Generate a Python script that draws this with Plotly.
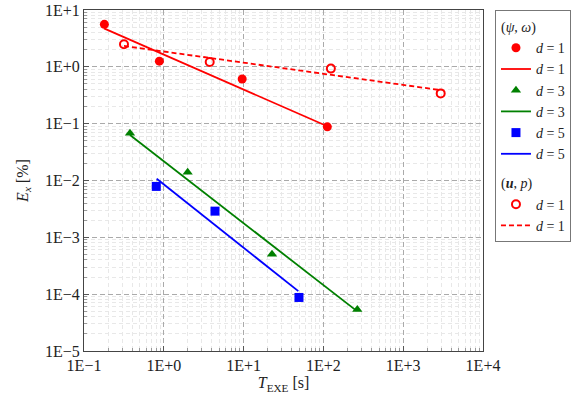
import plotly.graph_objects as go

# ---- data ----
# (psi, omega) formulation, markers
t_d1 = [0.18, 0.88, 9.6, 112]
e_d1 = [5.6, 1.26, 0.61, 0.088]
t_d3 = [0.377, 1.99, 22.7, 266]
e_d3 = [0.0675, 0.0139, 5.06e-4, 5.4e-5]
t_d5 = [0.805, 4.38, 49.4]
e_d5 = [0.00787, 0.00289, 8.75e-5]
# fitted lines (end points)
fit_t_d1 = [0.178, 112]
fit_e_d1 = [4.76, 0.090]
fit_t_d3 = [0.377, 261]
fit_e_d3 = [0.063, 5.08e-5]
fit_t_d5 = [0.815, 48.5]
fit_e_d5 = [0.0107, 1.13e-4]
# (u, p) formulation
t_up = [0.317, 3.76, 124, 2950]
e_up = [2.49, 1.22, 0.93, 0.341]
fit_t_up = [0.317, 2950]
fit_e_up = [2.33, 0.389]

x_tickvals = [0.1, 1, 10, 100, 1000, 10000]
x_ticktext = ["1E\u22121", "1E+0", "1E+1", "1E+2", "1E+3", "1E+4"]
y_tickvals = [1e-5, 1e-4, 1e-3, 1e-2, 1e-1, 1, 10]
y_ticktext = ["1E\u22125", "1E\u22124", "1E\u22123", "1E\u22122", "1E\u22121", "1E+0", "1E+1"]

RED = "#ff0000"
GREEN = "#008000"
BLUE = "#0000ff"
FONT = "Liberation Serif"
FS = 16
LFS = 14

fig = go.Figure()
g1 = "(<i>\u03c8</i>, <i>\u03c9</i>)"
g2 = "(<b><i>u</i></b>, <i>p</i>)"

fig.add_trace(go.Scatter(x=t_d1, y=e_d1, mode="markers", name="<i>d</i> = 1",
                         marker=dict(symbol="circle", size=9, color=RED),
                         legendgroup="a", legendgrouptitle_text=g1))
fig.add_trace(go.Scatter(x=fit_t_d1, y=fit_e_d1, mode="lines", name="<i>d</i> = 1",
                         line=dict(color=RED, width=1.8), legendgroup="a"))
fig.add_trace(go.Scatter(x=t_d3, y=e_d3, mode="markers", name="<i>d</i> = 3",
                         marker=dict(symbol="triangle-up", size=9, color=GREEN),
                         legendgroup="a"))
fig.add_trace(go.Scatter(x=fit_t_d3, y=fit_e_d3, mode="lines", name="<i>d</i> = 3",
                         line=dict(color=GREEN, width=1.8), legendgroup="a"))
fig.add_trace(go.Scatter(x=t_d5, y=e_d5, mode="markers", name="<i>d</i> = 5",
                         marker=dict(symbol="square", size=9, color=BLUE),
                         legendgroup="a"))
fig.add_trace(go.Scatter(x=fit_t_d5, y=fit_e_d5, mode="lines", name="<i>d</i> = 5",
                         line=dict(color=BLUE, width=1.8), legendgroup="a"))
fig.add_trace(go.Scatter(x=t_up, y=e_up, mode="markers", name="<i>d</i> = 1",
                         marker=dict(symbol="circle-open", size=8, color=RED,
                                     line=dict(width=2, color=RED)),
                         legendgroup="b", legendgrouptitle_text=g2))
fig.add_trace(go.Scatter(x=fit_t_up, y=fit_e_up, mode="lines", name="<i>d</i> = 1",
                         line=dict(color=RED, width=1.8, dash="5px,3px"), legendgroup="b"))

minor_x = [m * 10 ** k for k in range(-1, 4) for m in range(2, 10)]
minor_y = [m * 10 ** k for k in range(-5, 1) for m in range(2, 10)]

axis_common = dict(
    type="log", showline=True, linecolor="#444", linewidth=1.2, mirror=True,
    ticks="inside", ticklen=5, tickcolor="#555", automargin=False,
    showgrid=True, gridcolor="#aaaaaa", griddash="5px,3px", gridwidth=1,
    zeroline=False, tickfont=dict(family=FONT, size=FS, color="#222"),
    tickmode="array",
)

fig.update_xaxes(**axis_common, range=[-1, 4], tickvals=x_tickvals, ticktext=x_ticktext,
                 minor=dict(tickmode="array", tickvals=minor_x, ticks="inside", ticklen=3,
                            tickcolor="#999", showgrid=True, gridcolor="#e8e8e8",
                            griddash="4px,3px", gridwidth=1),
                 title=dict(text="<i>T</i><sub>EXE</sub> [s]", font=dict(family=FONT, size=FS, color="#222"),
                            standoff=2))
fig.update_yaxes(**axis_common, range=[-5, 1], tickvals=y_tickvals, ticktext=y_ticktext,
                 minor=dict(tickmode="array", tickvals=minor_y, ticks="inside", ticklen=3,
                            tickcolor="#999", showgrid=True, gridcolor="#e8e8e8",
                            griddash="4px,3px", gridwidth=1),
                 title=dict(text="<i>E</i><sub><i>x</i></sub> [%]", font=dict(family=FONT, size=FS, color="#222"),
                            standoff=12))

fig.update_layout(
    width=586, height=402,
    margin=dict(l=84, r=103, t=10, b=51, autoexpand=False),
    paper_bgcolor="white", plot_bgcolor="white",
    font=dict(family=FONT, size=FS, color="#222"),
    legend=dict(x=1.03, y=1.0, xanchor="left", yanchor="top",
                bordercolor="#777", borderwidth=1, bgcolor="white",
                font=dict(family=FONT, size=LFS, color="#222"),
                grouptitlefont=dict(family=FONT, size=LFS, color="#222"),
                tracegroupgap=8, itemwidth=30),
)

# remove the default page margin so the figure sits at the window's top-left corner
fig.write_html("out.html", config={"displayModeBar": False},
               post_script="document.body.style.margin='0px';")
